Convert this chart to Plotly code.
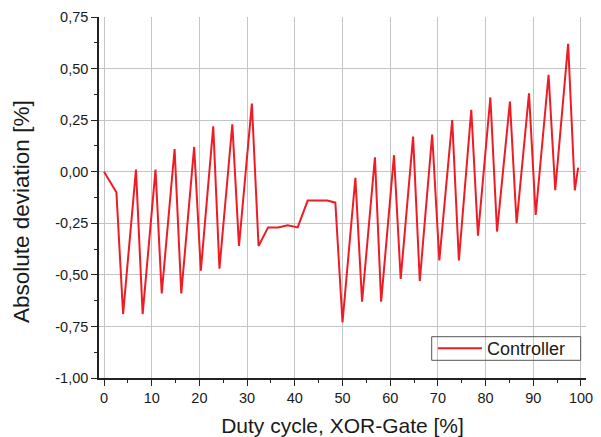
import plotly.graph_objects as go

duty_cycle = [0, 2.6, 4.0, 6.7, 8.1, 10.8, 12.1, 14.8, 16.2, 18.9, 20.3, 22.9, 24.2, 26.9, 28.3,
              31.0, 32.4, 34.4, 36.5, 38.5, 40.6, 42.7, 44.7, 46.8, 48.5, 50.0, 52.7, 54.1, 56.8,
              58.1, 60.8, 62.2, 64.8, 66.2, 68.8, 70.3, 73.0, 74.4, 77.0, 78.4, 81.0, 82.4, 85.1,
              86.5, 89.1, 90.5, 93.2, 94.6, 97.3, 98.7, 99.4]
deviation = [0, -0.10, -0.69, 0.01, -0.69, 0.01, -0.59, 0.11, -0.59, 0.12, -0.48, 0.22, -0.47, 0.23,
             -0.36, 0.33, -0.36, -0.27, -0.27, -0.26, -0.27, -0.14, -0.14, -0.14, -0.15, -0.73, -0.03,
             -0.63, 0.07, -0.63, 0.08, -0.52, 0.17, -0.53, 0.18, -0.43, 0.25, -0.43, 0.30, -0.31, 0.36,
             -0.29, 0.34, -0.25, 0.38, -0.21, 0.47, -0.09, 0.62, -0.09, 0.02]

x_ticks = [0, 10, 20, 30, 40, 50, 60, 70, 80, 90, 100]
x_ticktext = [str(v) for v in x_ticks]
y_ticks = [0.75, 0.5, 0.25, 0.0, -0.25, -0.5, -0.75, -1.0]
y_ticktext = ["0,75", "0,50", "0,25", "0,00", "-0,25", "-0,50", "-0,75", "-1,00"]

FONT = "Liberation Sans, Arial, sans-serif"
TXT = "#1a1a1a"
GRID = "#c4c4c4"

W, H = 601, 437
ML, MR, MT, MB = 99, 15, 17, 59
PW, PH = W - ML - MR, H - MT - MB

def px_x(p):
    return (p - ML) / PW

def px_y(p):
    return (H - MB - p) / PH

fig = go.Figure()
fig.add_trace(go.Scatter(
    x=duty_cycle, y=deviation, mode="lines", name="Controller",
    line=dict(color="#ee1c25", width=2),
))

fig.update_layout(
    width=W, height=H,
    margin=dict(l=ML, r=MR, t=MT, b=MB),
    paper_bgcolor="white", plot_bgcolor="white",
    font=dict(family=FONT, color=TXT, size=14.5),
    showlegend=True,
    legend=dict(
        x=px_x(433), y=px_y(348.5), xanchor="left", yanchor="middle",
        bgcolor="rgba(0,0,0,0)", borderwidth=0,
        font=dict(size=18, family=FONT, color=TXT),
        itemwidth=44,
    ),
    shapes=[dict(
        type="rect", xref="paper", yref="paper",
        x0=px_x(431.7), x1=px_x(580.7), y0=px_y(360.3), y1=px_y(336.7),
        line=dict(color="#555555", width=1), fillcolor="rgba(255,255,255,0)", layer="above",
    )],
    annotations=[dict(
        text="Absolute deviation [%]", xref="paper", yref="paper",
        x=px_x(22), y=px_y(212), xanchor="center", yanchor="middle",
        textangle=-90, showarrow=False, font=dict(size=22.5, family=FONT, color=TXT),
    )],
)

fig.update_xaxes(
    range=[-1.05, 101.05], automargin=False,
    tickmode="array", tickvals=x_ticks, ticktext=x_ticktext,
    ticks="outside", ticklen=6, tickwidth=1.2, tickcolor="#222",
    minor=dict(dtick=5, tick0=0, ticks="outside", ticklen=3, tickcolor="#222", showgrid=False),
    showline=True, linecolor="#222", linewidth=1.5,
    showgrid=True, gridcolor=GRID, gridwidth=1,
    zeroline=False, mirror=False,
    tickfont=dict(size=14.5),
    title=dict(text="Duty cycle, XOR-Gate [%]", font=dict(size=21), standoff=14),
)
fig.update_yaxes(
    range=[-1.0, 0.75], automargin=False,
    tickmode="array", tickvals=y_ticks, ticktext=y_ticktext,
    ticks="outside", ticklen=6, tickwidth=1.2, tickcolor="#222",
    minor=dict(dtick=0.125, tick0=0, ticks="outside", ticklen=3, tickcolor="#222", showgrid=False),
    showline=True, linecolor="#222", linewidth=1.5,
    showgrid=True, gridcolor=GRID, gridwidth=1,
    zeroline=False, mirror=False,
    tickfont=dict(size=14.5),
)

fig.write_html("out.html")
